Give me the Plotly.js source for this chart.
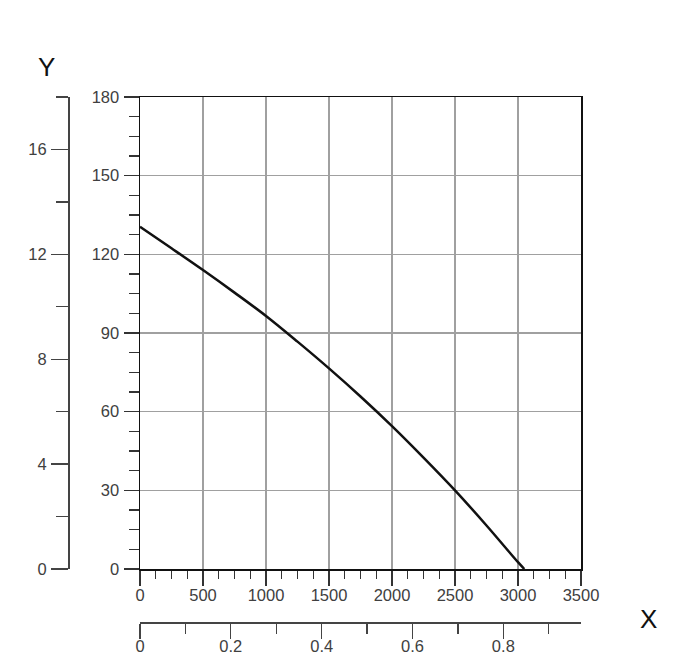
<!DOCTYPE html>
<html>
<head>
<meta charset="utf-8">
<script src="https://cdn.plot.ly/plotly-3.0.1.min.js"></script>
<style>
  html, body { margin: 0; padding: 0; background: #fff; }
  #chart { width: 697px; height: 672px; }
</style>
</head>
<body>
<div id="chart"></div>
<script>
// curve
let flow = [0, 250, 500, 750, 1000, 1250, 1500, 1750, 2000, 2250, 2500, 2750, 3000, 3050]
let head = [130.5, 122.3, 114, 105.4, 96.5, 86.7, 76.5, 65.8, 54.5, 42.5, 30, 16.6, 2.6, 0]

let x_ticks = [0, 500, 1000, 1500, 2000, 2500, 3000, 3500]
let y_ticks = [0, 30, 60, 90, 120, 150, 180]
let x2_ticks = [0, 0.2, 0.4, 0.6, 0.8]
let y2_ticks = [0, 4, 8, 12, 16]

let font = {family: 'Liberation Sans, Arial, sans-serif', size: 16.5, color: '#404040'}

let graph_data = [
  {
    x: flow,
    y: head,
    type: 'scatter',
    mode: 'lines',
    line: {color: '#111', width: 2.5, shape: 'spline'},
    hoverinfo: 'skip',
    showlegend: false
  },
  {
    x: [],
    y: [],
    xaxis: 'x2',
    yaxis: 'y2',
    type: 'scatter',
    mode: 'lines',
    showlegend: false
  }
]

let layout = {
  width: 697,
  height: 672,
  margin: {l: 0, r: 0, t: 0, b: 0},
  paper_bgcolor: '#fff',
  plot_bgcolor: '#fff',
  font: font,
  xaxis: {
    domain: [140 / 697, 581 / 697],
    range: [0, 3500],
    tickvals: x_ticks,
    ticktext: x_ticks.map(String),
    showgrid: true,
    gridcolor: '#a0a0a0',
    gridwidth: 1.3,
    zeroline: false,
    showline: true,
    linecolor: '#111',
    linewidth: 1.5,
    mirror: true,
    ticks: 'outside',
    ticklen: 15,
    tickwidth: 1.3,
    tickcolor: '#333',
    ticklabelstandoff: -4,
    minor: {dtick: 125, tick0: 0, ticks: 'outside', ticklen: 8, tickwidth: 1.3, tickcolor: '#333', showgrid: false}
  },
  yaxis: {
    domain: [1 - 569 / 672, 1 - 97 / 672],
    range: [0, 180],
    tickvals: y_ticks,
    ticktext: y_ticks.map(String),
    showgrid: true,
    gridcolor: '#a0a0a0',
    gridwidth: 1.3,
    zeroline: false,
    showline: true,
    linecolor: '#111',
    linewidth: 1.5,
    mirror: true,
    ticks: 'outside',
    ticklen: 15,
    tickwidth: 1.3,
    tickcolor: '#333',
    ticklabelstandoff: 1,
    minor: {dtick: 7.5, tick0: 0, ticks: 'outside', ticklen: 10, tickwidth: 1.3, tickcolor: '#333', showgrid: false}
  },
  xaxis2: {
    overlaying: 'x',
    anchor: 'free',
    position: 1 - 622 / 672,
    side: 'bottom',
    range: [0, 0.971],
    tickvals: x2_ticks,
    ticktext: x2_ticks.map(String),
    showgrid: false,
    zeroline: false,
    showline: true,
    linecolor: '#444',
    linewidth: 1.5,
    ticks: 'outside',
    ticklen: 15,
    tickwidth: 1.3,
    tickcolor: '#444',
    ticklabelstandoff: -6,
    minor: {dtick: 0.1, tick0: 0, ticks: 'outside', ticklen: 10, tickwidth: 1.3, tickcolor: '#444', showgrid: false}
  },
  yaxis2: {
    overlaying: 'y',
    anchor: 'free',
    position: 68 / 697,
    side: 'left',
    range: [0, 18],
    tickvals: y2_ticks,
    ticktext: y2_ticks.map(String),
    showgrid: false,
    zeroline: false,
    showline: true,
    linecolor: '#444',
    linewidth: 1.5,
    ticks: 'outside',
    ticklen: 17,
    tickwidth: 1.3,
    tickcolor: '#444',
    ticklabelstandoff: 1,
    minor: {dtick: 2, tick0: 0, ticks: 'outside', ticklen: 12, tickwidth: 1.3, tickcolor: '#444', showgrid: false}
  },
  annotations: [
    {text: 'Y', xref: 'paper', yref: 'paper', x: 46 / 697, y: 1 - 67 / 672,
      showarrow: false, xanchor: 'center', yanchor: 'middle',
      font: {family: 'Liberation Sans, Arial, sans-serif', size: 26, color: '#111'}},
    {text: 'X', xref: 'paper', yref: 'paper', x: 648 / 697, y: 1 - 619 / 672,
      showarrow: false, xanchor: 'center', yanchor: 'middle',
      font: {family: 'Liberation Sans, Arial, sans-serif', size: 26, color: '#111'}}
  ]
}

Plotly.newPlot('chart', graph_data, layout, {staticPlot: true, displayModeBar: false})
</script>
</body>
</html>
